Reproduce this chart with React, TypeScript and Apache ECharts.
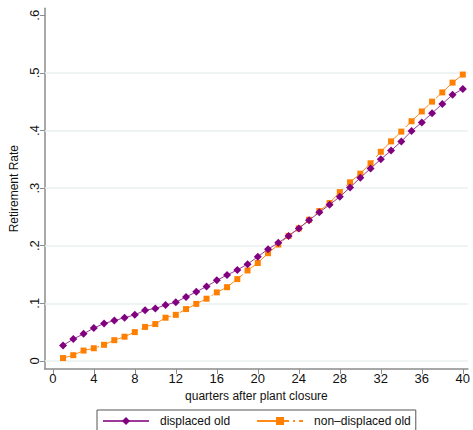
import React, { useEffect, useRef } from "react";
import * as echarts from "echarts";

const quarters = Array.from({ length: 40 }, (_, i) => i + 1);
const displacedOld = [
  0.027, 0.038, 0.047, 0.057, 0.065, 0.070, 0.075, 0.080, 0.088, 0.091,
  0.097, 0.102, 0.111, 0.120, 0.129, 0.140, 0.149, 0.158, 0.168, 0.181,
  0.194, 0.205, 0.217, 0.230, 0.244, 0.258, 0.271, 0.285, 0.301, 0.318,
  0.334, 0.350, 0.365, 0.381, 0.399, 0.414, 0.430, 0.446, 0.462, 0.472,
];
const nonDisplacedOld = [
  0.005, 0.010, 0.018, 0.022, 0.028, 0.036, 0.042, 0.050, 0.059, 0.064,
  0.075, 0.080, 0.090, 0.099, 0.108, 0.119, 0.128, 0.142, 0.157, 0.170,
  0.187, 0.202, 0.217, 0.230, 0.245, 0.260, 0.274, 0.293, 0.310, 0.325,
  0.343, 0.363, 0.381, 0.398, 0.416, 0.433, 0.450, 0.466, 0.483, 0.497,
];
const xTicks = [0, 4, 8, 12, 16, 20, 24, 28, 32, 36, 40];
const yTicks = [0, 0.1, 0.2, 0.3, 0.4, 0.5, 0.6];
const gridValues = [0, 0.1, 0.2, 0.3, 0.4, 0.5];

const FONT = "Liberation Sans";
const AXIS_COLOR = "#8c8c8c";

export default function App() {
  const ref = useRef<HTMLDivElement>(null);
  useEffect(() => {
    if (!ref.current) return;
    const chart = echarts.init(ref.current, undefined, { renderer: "svg" });
    chart.setOption({
      animation: false,
      backgroundColor: "#ffffff",
      textStyle: { fontFamily: FONT },
      grid: { left: 42, right: 2, top: 8.3, bottom: 61, containLabel: false },
      xAxis: {
        type: "value",
        min: -0.77,
        max: 40.5,
        name: "quarters after plant closure",
        nameLocation: "middle",
        nameGap: 19,
        nameTextStyle: { fontFamily: FONT, fontSize: 12, color: "#111", verticalAlign: "top" },
        axisLine: { show: true, onZero: false, lineStyle: { color: AXIS_COLOR, width: 1.5 } },
        axisTick: { show: true, length: 5, customValues: xTicks, lineStyle: { color: AXIS_COLOR } },
        axisLabel: {
          customValues: xTicks,
          fontFamily: FONT,
          fontSize: 13,
          color: "#111",
          margin: 3,
          formatter: (v: number) => String(Math.round(v)),
        },
        splitLine: { show: false },
      },
      yAxis: {
        type: "value",
        min: -0.014,
        max: 0.612,
        name: "Retirement Rate",
        nameLocation: "middle",
        nameGap: 22,
        nameRotate: 90,
        nameTextStyle: { fontFamily: FONT, fontSize: 12, color: "#111" },
        axisLine: { show: true, onZero: false, lineStyle: { color: AXIS_COLOR, width: 1.5 } },
        axisTick: { show: true, length: 5, customValues: yTicks, lineStyle: { color: AXIS_COLOR } },
        axisLabel: {
          customValues: yTicks,
          rotate: 90,
          fontFamily: FONT,
          fontSize: 13,
          color: "#111",
          margin: 4,
          formatter: (v: number) => {
            const r = Math.round(v * 10);
            return r === 0 ? "0" : "." + r;
          },
        },
        splitLine: { show: false },
      },
      legend: {
        left: 97,
        top: 410,
        padding: [5, 5, 16, 5],
        borderColor: "#555",
        borderWidth: 1,
        itemWidth: 46,
        itemHeight: 10,
        itemGap: 26,
        textStyle: { fontFamily: FONT, fontSize: 12, color: "#111", padding: [0, 0, 0, 6] },
        data: ["displaced old", "non–displaced old"],
      },
      series: [
        {
          name: "displaced old",
          type: "line",
          data: quarters.map((q, i) => [q, displacedOld[i]]),
          symbol: "diamond",
          symbolSize: 8,
          itemStyle: { color: "#800080" },
          lineStyle: { color: "#9a3a9a", width: 1 },
          z: 3,
          markLine: {
            silent: true,
            symbol: "none",
            label: { show: false },
            lineStyle: { color: "#e8f0f1", width: 1.5, type: "solid" },
            data: gridValues.map((v) => ({ yAxis: v })),
            z: 1,
          },
        },
        {
          name: "non–displaced old",
          type: "line",
          data: quarters.map((q, i) => [q, nonDisplacedOld[i]]),
          symbol: "rect",
          symbolSize: 6,
          itemStyle: { color: "#ff8000" },
          lineStyle: { color: "#ff8a1a", width: 1, type: [32, 4, 2, 4] },
          z: 2,
        },
      ],
    });
    return () => chart.dispose();
  }, []);
  return <div ref={ref} style={{ width: 473, height: 430, position: "absolute", left: 0, top: 0 }} />;
}
